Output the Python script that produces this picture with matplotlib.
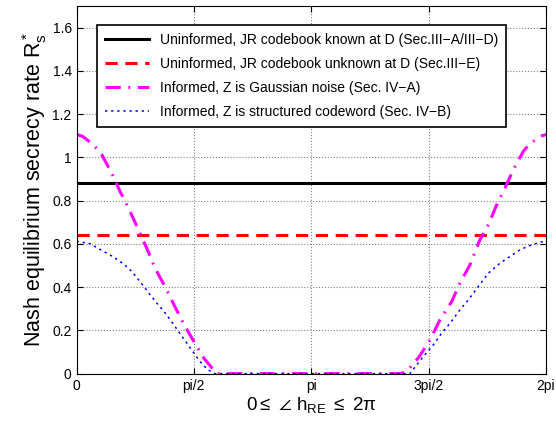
import numpy as np
import matplotlib
matplotlib.use('Agg')
import matplotlib.pyplot as plt

plt.rcParams['font.family'] = ['Liberation Sans', 'DejaVu Sans']
plt.rcParams['mathtext.fontset'] = 'custom'
plt.rcParams['mathtext.rm'] = 'Liberation Sans'
plt.rcParams['mathtext.it'] = 'Liberation Sans'

# constant rates (uninformed cases)
rate_known = 0.88
rate_unknown = 0.642

# informed, Z gaussian noise (angle in rad, rate)
gauss_theta = [0.0, 0.078, 0.225, 0.337, 0.471, 0.582, 0.707, 0.827, 0.939, 1.050,
               1.184, 1.305, 1.429, 1.572, 1.706, 1.876, 4.33, 4.419, 4.588, 4.731,
               4.864, 5.021, 5.132, 5.266, 5.40, 5.512, 5.624, 5.735, 5.846, 5.98,
               6.069, 6.235, 6.283]
gauss_rate = [1.105, 1.098, 1.059, 1.013, 0.928, 0.843, 0.758, 0.666, 0.581, 0.488,
              0.403, 0.318, 0.233, 0.148, 0.071, 0.0, 0.0, 0.009, 0.079, 0.156,
              0.249, 0.333, 0.419, 0.503, 0.620, 0.689, 0.781, 0.859, 0.943, 1.028,
              1.064, 1.101, 1.105]

# informed, Z structured codeword
struct_theta = [0.0, 0.181, 0.337, 0.484, 0.627, 0.738, 0.858, 0.969, 1.082, 1.207,
                1.318, 1.429, 1.541, 1.643, 1.750, 1.853, 4.463, 4.552, 4.641, 4.775,
                4.887, 4.999, 5.132, 5.244, 5.378, 5.512, 5.669, 5.802, 5.937, 6.092,
                6.247, 6.283]
struct_rate = [0.612, 0.601, 0.570, 0.542, 0.508, 0.473, 0.422, 0.372, 0.323, 0.272,
               0.218, 0.164, 0.110, 0.060, 0.020, 0.0, 0.0, 0.040, 0.079, 0.133,
               0.187, 0.233, 0.295, 0.341, 0.403, 0.465, 0.511, 0.542, 0.573, 0.596,
               0.611, 0.612]

xticks = [0, np.pi/2, np.pi, 3*np.pi/2, 2*np.pi]
xticklabels = ['0', 'pi/2', 'pi', '3pi/2', '2pi']
yticks = [0, 0.2, 0.4, 0.6, 0.8, 1, 1.2, 1.4, 1.6]
yticklabels = ['0', '0.2', '0.4', '0.6', '0.8', '1', '1.2', '1.4', '1.6']

fig = plt.figure(figsize=(5.56, 4.28), dpi=100)
ax = fig.add_axes([0.1376, 0.127, 0.8444, 0.859])

ax.plot([0, 2*np.pi], [rate_known, rate_known], 'k-', lw=2.2,
        label='Uninformed, JR codebook known at D (Sec.III\u2212A/III\u2212D)')
ax.plot([0, 2*np.pi], [rate_unknown, rate_unknown], color='red', ls=(0, (4, 2.5)), lw=2.2,
        label='Uninformed, JR codebook unknown at D (Sec.III\u2212E)')
ax.plot(gauss_theta, gauss_rate, color='magenta', ls=(0, (5, 2.5, 0.6, 2.5)), lw=2.2,
        label='Informed, Z is Gaussian noise (Sec. IV\u2212A)')
ax.plot(struct_theta, struct_rate, color='blue', ls=(0, (1.5, 2.5)), lw=1.1,
        label='Informed, Z is structured codeword (Sec. IV\u2212B)')

ax.set_xlim(0, 2*np.pi)
ax.set_ylim(0, 1.7)
ax.set_xticks(xticks)
ax.set_xticklabels(xticklabels)
ax.set_yticks(yticks)
ax.set_yticklabels(yticklabels)
ax.tick_params(direction='in', top=True, right=True, labelsize=10, length=4)
ax.grid(True, ls=':', color='gray', lw=0.8)

ax.set_xlabel(r'0$\leq$ $\angle$ h$_{\rm RE}$ $\leq$ 2$\pi$', fontsize=13.5, labelpad=2)
ax.set_ylabel(r'Nash equilibrium secrecy rate R$_{\rm s}^*$', fontsize=15.5, labelpad=2)

leg = ax.legend(loc='upper left', bbox_to_anchor=(0.029, 0.966), fontsize=10,
                fancybox=False, edgecolor='black', framealpha=1,
                handlelength=3.2, borderpad=0.55, labelspacing=0.72)
leg.get_frame().set_linewidth(1.2)

fig.savefig('out.png', dpi=100)
